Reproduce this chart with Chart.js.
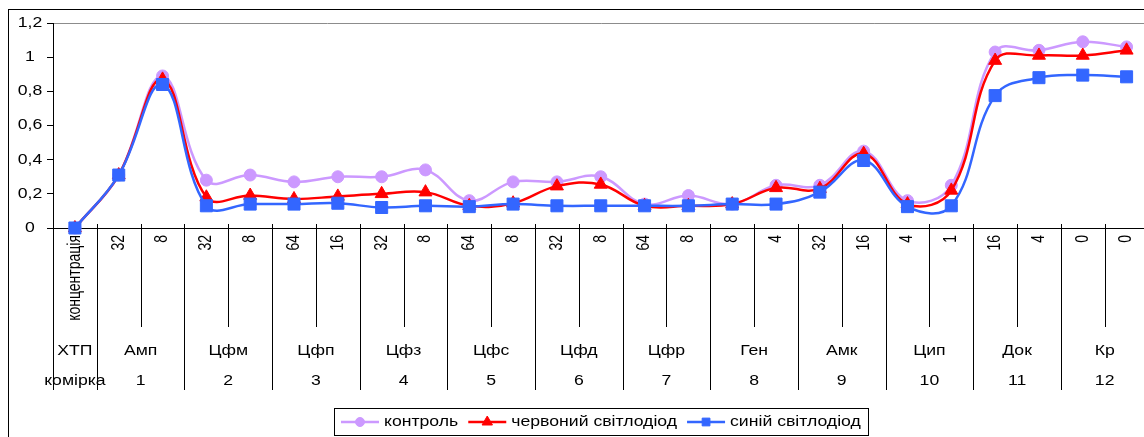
<!DOCTYPE html>
<html>
<head>
<meta charset="utf-8">
<script src="https://cdn.jsdelivr.net/npm/chart.js@4.4.1/dist/chart.umd.min.js"></script>
<style>
    html, body { margin: 0; padding: 0; background: #fff; overflow: hidden; }
    /* the plot runs a little past the right edge of the picture, as in the source */
    #wrap { width: 1158px; height: 437px; position: relative; }
</style>
</head>
<body>
<div id="wrap"><canvas id="cellChart"></canvas></div>
<script>
// Category axis: concentration row, drug (ХТП) row, cell (комірка) row
const headConcentration = 'концентрація';
const headDrug = 'ХТП';
const headCell = 'комірка';
const drugs = ['Амп', 'Цфм', 'Цфп', 'Цфз', 'Цфс', 'Цфд', 'Цфр', 'Ген', 'Амк', 'Цип', 'Док', 'Кр'];
const cells = ['1', '2', '3', '4', '5', '6', '7', '8', '9', '10', '11', '12'];
const concentrations = [
    ['32', '8'], ['32', '8'], ['64', '16'], ['32', '8'], ['64', '8'], ['32', '8'],
    ['64', '8'], ['8', '4'], ['32', '16'], ['4', '1'], ['16', '4'], ['0', '0']
];

// Series
const seriesNames = ['контроль', 'червоний світлодіод', 'синій світлодіод'];
const controlValues = [0, 0.31, 0.89, 0.28, 0.31, 0.27, 0.30, 0.30, 0.34, 0.16, 0.27, 0.27, 0.30,
    0.14, 0.19, 0.14, 0.25, 0.25, 0.45, 0.16, 0.25, 1.03, 1.04, 1.09, 1.06];
const redValues = [0, 0.31, 0.87, 0.18, 0.19, 0.17, 0.185, 0.20, 0.21, 0.13, 0.145, 0.245, 0.255,
    0.13, 0.13, 0.14, 0.235, 0.23, 0.435, 0.14, 0.22, 0.98, 1.01, 1.01, 1.04];
const blueValues = [0, 0.31, 0.84, 0.13, 0.14, 0.14, 0.145, 0.12, 0.13, 0.125, 0.14, 0.13, 0.13,
    0.13, 0.13, 0.14, 0.14, 0.21, 0.395, 0.125, 0.13, 0.775, 0.88, 0.895, 0.885];

// Build the flat label list and the group table from the small arrays
const labels = [headConcentration];
const groups = [{ name: headDrug, cell: headCell, start: 0, size: 1 }];
drugs.forEach((d, k) => {
    groups.push({ name: d, cell: cells[k], start: labels.length, size: concentrations[k].length });
    concentrations[k].forEach(c => labels.push(c));
});

const FONT = '14px "Liberation Sans", Arial, sans-serif';
const SX = 1.26; // text in the picture is a bit wider than plain Arial

function drawText(ctx, text, x, y, align, rotated) {
    ctx.save();
    ctx.translate(x, y);
    ctx.scale(SX, 1);
    if (rotated) ctx.rotate(-Math.PI / 2);
    ctx.textAlign = align;
    ctx.textBaseline = 'middle';
    ctx.fillText(text, 0, 0);
    ctx.restore();
}

function vLine(ctx, x, y1, y2) {
    ctx.beginPath();
    ctx.moveTo(x, y1);
    ctx.lineTo(x, y2);
    ctx.stroke();
}

function formatTick(v) {
    return String(Math.round(v * 10) / 10).replace('.', ',');
}

// Draws frame, axis texts, divider lines and the boxed legend
const decorPlugin = {
    id: 'decor',
    afterDraw(chart) {
        const ctx = chart.ctx;
        const xs = chart.scales.x;
        const ys = chart.scales.y;
        const area = chart.chartArea;
        const base = Math.round(area.bottom);
        const px = i => xs.getPixelForValue(i);
        const mid = i => Math.round((px(i) + px(i + 1)) / 2) + 0.5;

        ctx.save();
        ctx.fillStyle = '#000';
        ctx.strokeStyle = '#000';
        ctx.lineWidth = 1;
        ctx.font = FONT;

        // outer frame (right and bottom fall outside the picture)
        ctx.strokeRect(8.5, 9.5, chart.width + 20, chart.height + 20);

        // y tick labels
        ys.ticks.forEach(t => {
            drawText(ctx, formatTick(t.value), 30, ys.getPixelForValue(t.value), 'center', false);
        });

        // rotated concentration labels
        chart.data.labels.forEach((l, i) => {
            drawText(ctx, l, px(i), base + 7, 'right', true);
        });

        // divider lines
        vLine(ctx, Math.round(area.left) + 0.5, base, base + 162);
        groups.forEach((g, gi) => {
            for (let k = g.start; k < g.start + g.size - 1; k++) {
                vLine(ctx, mid(k), base - 4, base + 99);
            }
            if (gi < groups.length - 1) {
                vLine(ctx, mid(g.start + g.size - 1), base - 4, base + 162);
            }
            const cx = (px(g.start) + px(g.start + g.size - 1)) / 2;
            drawText(ctx, g.name, cx, base + 123, 'center', false);
            drawText(ctx, g.cell, cx, base + 153, 'center', false);
        });

        // legend with line + marker, inside a box
        const lineLen = 38, gapText = 5, gapItem = 10, pad = 7;
        const items = chart.data.datasets.map(ds => ({ ds: ds, w: ctx.measureText(ds.label).width * SX }));
        let total = pad * 2 + gapItem * (items.length - 1);
        items.forEach(it => { total += lineLen + gapText + it.w; });
        const centerX = (area.left + area.right) / 2;
        const boxLeft = Math.round(centerX - total / 2);
        const boxTop = 408, boxH = 27;
        const ly = boxTop + boxH / 2 + 0.5;
        ctx.strokeRect(boxLeft + 0.5, boxTop + 0.5, Math.round(total), boxH);

        let cur = boxLeft + pad;
        items.forEach(it => {
            const ds = it.ds;
            ctx.strokeStyle = ds.borderColor;
            ctx.lineWidth = 2.5;
            ctx.beginPath();
            ctx.moveTo(cur, ly);
            ctx.lineTo(cur + lineLen, ly);
            ctx.stroke();
            ctx.fillStyle = ds.backgroundColor;
            ctx.lineWidth = 1;
            Chart.helpers.drawPoint(ctx, {
                pointStyle: ds.pointStyle, rotation: 0, radius: ds.legendRadius, borderWidth: 1
            }, cur + lineLen / 2, ly);
            ctx.fillStyle = '#000';
            drawText(ctx, ds.label, cur + lineLen + gapText, ly, 'left', false);
            cur += lineLen + gapText + it.w + gapItem;
        });
        ctx.restore();
    }
};

function makeSeries(name, values, color, style, radius, legendRadius, order) {
    return {
        label: name,
        data: values,
        borderColor: color,
        backgroundColor: color,
        pointStyle: style,
        pointRadius: radius,
        pointHoverRadius: radius,
        pointBorderWidth: 1,
        borderWidth: 2.5,
        tension: 0.4,
        clip: false,
        order: order,
        legendRadius: legendRadius
    };
}

new Chart(document.getElementById('cellChart'), {
    type: 'line',
    data: {
        labels: labels,
        datasets: [
            makeSeries(seriesNames[0], controlValues, '#CC99FF', 'circle', 6, 4.5, 3),
            makeSeries(seriesNames[1], redValues, '#FF0000', 'triangle', 7.5, 6, 2),
            makeSeries(seriesNames[2], blueValues, '#3366FF', 'rect', 8.5, 5.5, 1)
        ]
    },
    options: {
        responsive: true,
        maintainAspectRatio: false,
        animation: false,
        events: [],
        layout: { padding: { top: 23, right: 0, left: 0, bottom: 0 } },
        plugins: {
            legend: { display: false },
            tooltip: { enabled: false }
        },
        scales: {
            x: {
                type: 'category',
                offset: true,
                grid: { display: false },
                border: { display: true, color: '#000', width: 1 },
                ticks: { display: false },
                afterFit: s => { s.height = 209; }
            },
            y: {
                min: 0,
                max: 1.2,
                ticks: { display: false, stepSize: 0.2 },
                grid: {
                    color: c => (c.tick && Math.abs(c.tick.value - 1.2) < 1e-6) ? '#8c8c8c' : 'rgba(0,0,0,0)',
                    tickColor: '#000',
                    tickLength: 6,
                    drawTicks: true
                },
                border: { display: true, color: '#000', width: 1 },
                afterFit: s => { s.width = 53; }
            }
        }
    },
    plugins: [decorPlugin]
});
</script>
</body>
</html>
